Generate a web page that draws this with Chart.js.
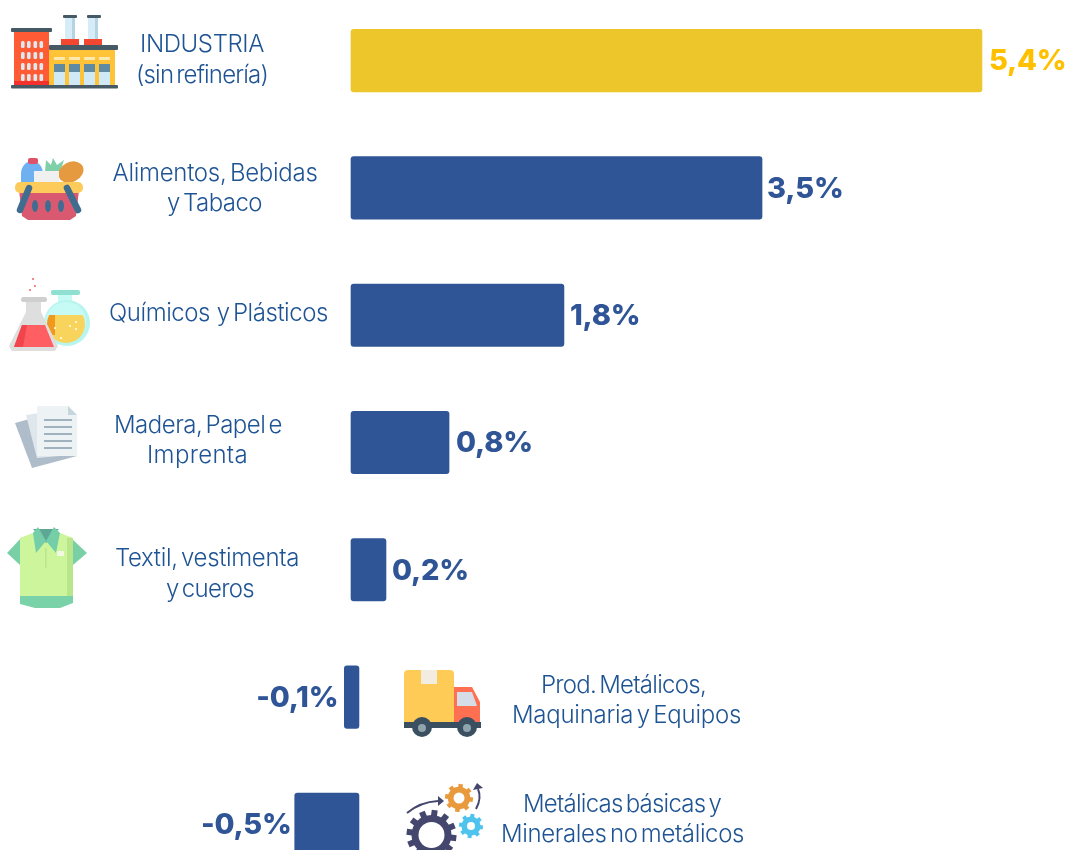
<!DOCTYPE html>
<html lang="es">
<head>
<meta charset="utf-8">
<title>Industria</title>
<script src="https://cdn.jsdelivr.net/npm/chart.js@4"></script>
<style>
html,body{margin:0;padding:0;background:#fff;width:1067px;height:850px;overflow:hidden}
#wrap{position:absolute;left:0;top:-4px;width:1067px;height:892px}
</style>
</head>
<body>
<div id="wrap"><canvas id="c" width="1067" height="892"></canvas></div>
<script>
// ---- data ----
const categories = ["INDUSTRIA (sin refinería)","Alimentos, Bebidas y Tabaco","Químicos y Plásticos","Madera, Papel e Imprenta","Textil, vestimenta y cueros","Prod. Metálicos, Maquinaria y Equipos","Metálicas básicas y Minerales no metálicos"];
const reportedValues = ["5,4%","3,5%","1,8%","0,8%","0,2%","-0,1%","-0,5%"];
const barLow  = [0,0,0,0,0,-0.057,-0.481];
const barHigh = [5.393,3.513,1.82,0.838,0.299,0.068,0.068];
const categoryLines = [
  ["INDUSTRIA","(sin refinería)"],
  ["Alimentos, Bebidas","y Tabaco"],
  ["Químicos  y Plásticos"],
  ["Madera, Papel e","Imprenta"],
  ["Textil, vestimenta","y cueros"],
  ["Prod. Metálicos,","Maquinaria y Equipos"],
  ["Metálicas básicas y","Minerales no metálicos"]
];

// ---- layout and style ----
const lineLayout = [
  [[202,45,124],[202,76,132]],
  [[215,174,205],[214.5,204,95]],
  [[218.5,314,219]],
  [[198,426,168],[197.5,456,101]],
  [[207,559,184],[210,590,88]],
  [[623.5,686,165],[626.5,716,229]],
  [[622,805,198],[622.5,835,243]]
];
const valueGap = [7,5,6,7,6,6,3];

function R(c,col,x,y,w,h,r){c.fillStyle=col;c.beginPath();c.roundRect(x,y,w,h,r||0);c.fill();}
function P(c,col,pts){c.fillStyle=col;c.beginPath();pts.forEach((p,i)=>i?c.lineTo(p[0],p[1]):c.moveTo(p[0],p[1]));c.closePath();c.fill();}
function C(c,col,x,y,r){c.fillStyle=col;c.beginPath();c.arc(x,y,r,0,Math.PI*2);c.fill();}
function E(c,col,x,y,rx,ry,a){c.fillStyle=col;c.beginPath();c.ellipse(x,y,rx,ry,a||0,0,Math.PI*2);c.fill();}
function gear(c,col,x,y,r,hole,n,tw){
  c.strokeStyle=col;c.lineWidth=tw;
  for(let i=0;i<n;i++){const a=i*2*Math.PI/n+0.13;c.beginPath();c.moveTo(x,y);c.lineTo(x+Math.cos(a)*r,y+Math.sin(a)*r);c.stroke();}
  C(c,col,x,y,r*0.8);C(c,'#fff',x,y,hole);
}
function factory(c){
  R(c,'#d6edf8',65,18,10,22);R(c,'#d6edf8',88,18,10,22);
  R(c,'#b4d4e4',72,18,3,22);R(c,'#b4d4e4',95,18,3,22);
  R(c,'#455a64',63,15,14,3,1);R(c,'#455a64',87,15,14,3,1);
  R(c,'#f4472f',61,39,18,7);R(c,'#f4472f',84,39,18,7);
  R(c,'#ff5b35',14,32,35,53);
  R(c,'#455a64',11,28,41,4,1);
  const wx=[21,27,33.5,39.5],wy=[41,52,63,74];
  wy.forEach(y=>wx.forEach(x=>R(c,'#dbeaf0',x,y,3.6,7,1.5)));
  R(c,'#f4312f',14,81,35,4);
  R(c,'#ffc338',49,50,66,35);
  R(c,'#455a64',49,45,69,5,1);
  [54,69,84,99].forEach(x=>{
    R(c,'#fde9b0',x,57,11,3);
    R(c,'#cfe9f7',x,64,11,21);
    R(c,'#5f8aa3',x,64,11,8);
  });
  R(c,'#455a64',11,85,107,3.5,1);
}
function basket(c){
  E(c,'#6fb1f0',32,174,11,13);R(c,'#6fb1f0',21,174,22,10);
  R(c,'#e0526a',28,158,10,6,2);
  P(c,'#7fcfa8',[[45,172],[46,160],[51,165],[53,158],[57,165],[64,160],[60,172]]);
  E(c,'#e69a40',71,172,13,10,-0.45);
  R(c,'#f0f0f0',34,171,25,12);
  P(c,'#d95a70',[[19,190],[79,190],[76,216],[70,220],[28,220],[22,216]]);
  R(c,'#fdcb5a',15,182,68,11,5);
  c.strokeStyle='#3f6d90';c.lineWidth=6.5;c.lineCap='round';
  c.beginPath();c.moveTo(29,188);c.lineTo(20,210);c.moveTo(67,188);c.lineTo(78,210);c.stroke();
  c.lineCap='butt';
  [35,48,61].forEach(x=>E(c,'#3f6d90',x,206,3,6));
}
function flasks(c){
  R(c,'#8fe0d0',51,290,29,5,2);
  R(c,'#c6fbf5',58,295,14,12);
  C(c,'#b8f5ee',67,323,23);
  C(c,'#c6fbf5',66,322,20);
  c.save();c.beginPath();c.arc(66,324,19,0,Math.PI*2);c.clip();
  R(c,'#f9d45c',46,315,42,32);R(c,'#ef9a1f',46,315,9,20);c.restore();
  [[55,328],[70,326],[76,329],[61,338],[76,322]].forEach(p=>C(c,'#fff',p[0],p[1],1));
  P(c,'#dedede',[[26,302],[41,302],[41,312],[58,346],[55,351],[12,351],[9,346],[26,312]]);
  R(c,'#cfcfcf',21,297,26,5,2.5);
  P(c,'#ff5f63',[[22,325],[45,325],[54,347],[14,347]]);
  P(c,'#f2444c',[[22,325],[27,325],[23,347],[14,347]]);
  [[33,279],[35,286],[30,290]].forEach(p=>C(c,'#f0606a',p[0],p[1],1));
}
function papers(c){
  P(c,'#aebdc9',[[15,423],[62,410],[77,456],[32,468]]);
  P(c,'#dfe7ec',[[26,415],[70,408],[70,455],[37,458]]);
  P(c,'#edf2f5',[[37,406],[68,406],[77,415],[77,456],[37,456]]);
  P(c,'#c6d6de',[[68,406],[77,415],[68,415]]);
  [419,426,433,440,447].forEach(y=>R(c,'#9fb2bd',44,y,28,2));
}
function shirt(c){
  P(c,'#7ad0a6',[[22,537],[7,553],[20,565],[30,560]]);
  P(c,'#7ad0a6',[[70,537],[87,553],[73,565],[63,560]]);
  P(c,'#cdf59b',[[20,538],[33,533],[60,533],[73,538],[73,600],[20,600]]);
  R(c,'#b9e68d',67,538,6,62);
  R(c,'#b9e68d',45,548,1.5,20);
  R(c,'#f2f8e4',57,551,7,5,1);
  P(c,'#7ad3a8',[[20,596],[73,596],[73,603],[60,608],[35,608],[20,604]]);
  P(c,'#5fa795',[[33,529],[59,529],[46,543]]);
  P(c,'#74cfa9',[[33,533],[38,527],[46,541],[36,553]]);
  P(c,'#74cfa9',[[60,533],[54,527],[46,541],[56,553]]);
}
function truck(c){
  R(c,'#ffcb57',404,670,50,53,[4,4,0,0]);
  P(c,'#f2ede0',[[421,670],[437,670],[437,684],[421,684]]);
  P(c,'#ff7052',[[454,687],[472,687],[480,702],[480,722],[454,722]]);
  P(c,'#d5dee8',[[457,692],[472,692],[477,706],[457,706]]);
  R(c,'#3a4f60',404,722,77,6);
  C(c,'#3a4f60',422,727,10);C(c,'#3a4f60',467,727,10);
  C(c,'#90a4ae',422,728,4);C(c,'#90a4ae',467,728,4);
}
function gears(c){
  gear(c,'#44466e',431.5,835,25,13,12,6);
  gear(c,'#e89a3c',459,798,14,5.5,8,4.5);
  gear(c,'#4ec3ee',471,826,12,4,8,4);
  c.strokeStyle='#44466e';c.lineWidth=2;
  c.beginPath();c.moveTo(407,813);c.quadraticCurveTo(420,802,438,801);c.stroke();
  P(c,'#44466e',[[438,796],[438,806],[444,801]]);
  c.beginPath();c.moveTo(476,809);c.quadraticCurveTo(482,798,478,789);c.stroke();
  P(c,'#44466e',[[473,790],[483,788],[477,783]]);
}

const overlay = {
  id:'overlay',
  afterDatasetsDraw(chart){
    const c=chart.ctx, x=chart.scales.x, y=chart.scales.y;
    const top=chart.canvas.getBoundingClientRect().top;
    c.save();
    c.translate(0,-top);
    [factory,basket,flasks,papers,shirt,truck,gears].forEach(f=>f(c));
    c.textAlign='center';c.textBaseline='middle';c.fillStyle='#1f5494';
    c.font='300 24px Inter, "Noto Sans", sans-serif';
    c.wordSpacing='-3px';
    categoryLines.forEach((lines,i)=>lines.forEach((t,j)=>{
      const [cx,cy,w]=lineLayout[i][j];
      c.letterSpacing='0px';
      const m=c.measureText(t).width;
      c.letterSpacing=((w-m)/t.length).toFixed(3)+'px';
      c.fillText(t,cx,cy);
    }));
    c.wordSpacing='0px';
    c.letterSpacing='-0.2px';
    c.font='800 29px Inter, "Noto Sans", sans-serif';
    reportedValues.forEach((t,i)=>{
      const neg=barHigh[i]+barLow[i]<0.05;
      const yy=y.getPixelForValue(i)+top+1;
      c.fillStyle=i===0?'#ffc000':'#2f5597';
      if(neg){c.textAlign='right';c.fillText(t,x.getPixelForValue(barLow[i])-valueGap[i],yy);}
      else{c.textAlign='left';c.fillText(t,x.getPixelForValue(barHigh[i])+valueGap[i],yy);}
    });
    c.restore();
  }
};

new Chart(document.getElementById('c'),{
  type:'bar',
  data:{
    labels:categories,
    datasets:[{
      data:barLow.map((lo,i)=>[lo,barHigh[i]]),
      backgroundColor:categories.map((_,i)=>i===0?'#ecc62b':'#2f5597'),
      borderRadius:3,borderSkipped:false,barThickness:62.5
    }]
  },
  options:{
    indexAxis:'y',responsive:false,animation:false,
    layout:{padding:{top:1,bottom:0,left:0,right:0}},
    plugins:{legend:{display:false},tooltip:{enabled:false}},
    scales:{
      x:{type:'linear',min:-3,max:6.1197,display:false},
      y:{type:'category',display:false}
    }
  },
  plugins:[overlay]
});
</script>
</body>
</html>
